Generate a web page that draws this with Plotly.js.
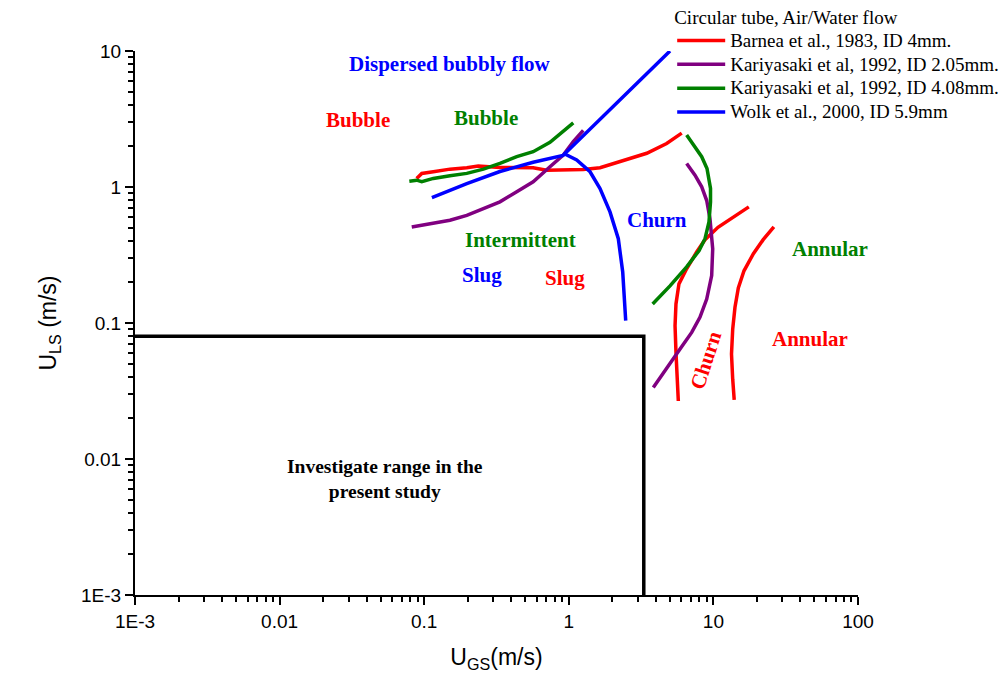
<!DOCTYPE html>
<html>
<head>
<meta charset="utf-8">
<script src="https://cdn.plot.ly/plotly-3.0.1.min.js"></script>
<style>html,body{margin:0;padding:0;background:#fff;}#chart{width:1008px;height:684px;}</style>
</head>
<body>
<div id="chart"></div>
<script>
// ---- data ----
// Barnea et al., 1983, ID 4mm (red)
const barnea1X = [0.0887, 0.0962, 0.1156, 0.1507, 0.197, 0.2366, 0.334, 0.567, 0.703, 1.259, 1.644, 2.26, 3.46, 4.75, 6.04];
const barnea1Y = [1.156, 1.259, 1.295, 1.353, 1.386, 1.424, 1.393, 1.386, 1.33, 1.346, 1.386, 1.535, 1.77, 2.09, 2.49];
const barnea2X = [17.58, 13.66, 10.76, 8.75, 7.66, 6.53, 5.78, 5.51, 5.43, 5.51, 5.63, 5.72];
const barnea2Y = [0.714, 0.596, 0.505, 0.410, 0.3325, 0.2503, 0.194, 0.138, 0.0955, 0.0608, 0.0386, 0.0267];
const barnea3X = [26.2, 22.1, 18.9, 16.28, 14.87, 14.10, 13.60, 13.34, 13.60, 13.93];
const barnea3Y = [0.5085, 0.410, 0.323, 0.242, 0.1813, 0.1306, 0.0903, 0.0591, 0.0386, 0.0272];
// Kariyasaki et al, 1992, ID 2.05mm (purple)
const kari205aX = [0.0820, 0.1156, 0.1507, 0.197, 0.2566, 0.334, 0.4365, 0.567, 0.741, 0.916, 1.074, 1.259];
const kari205aY = [0.5085, 0.538, 0.569, 0.619, 0.694, 0.778, 0.922, 1.093, 1.41, 1.717, 2.157, 2.61];
const kari205bX = [6.53, 7.46, 8.30, 8.99, 9.47, 9.89, 9.73, 8.99, 8.07, 7.08, 5.88, 4.75, 3.84];
const kari205bY = [1.49, 1.222, 1.003, 0.795, 0.585, 0.3516, 0.2234, 0.150, 0.110, 0.0853, 0.0643, 0.0458, 0.0335];
// Kariyasaki et al, 1992, ID 4.08mm (green)
const kari408aX = [0.0789, 0.0887, 0.0962, 0.1156, 0.1507, 0.197, 0.2566, 0.334, 0.4365, 0.567, 0.741, 0.916, 1.074];
const kari408aY = [1.104, 1.122, 1.093, 1.156, 1.21, 1.259, 1.353, 1.49, 1.671, 1.819, 2.13, 2.58, 2.96];
const kari408bX = [6.53, 7.46, 8.30, 9.03, 9.55, 9.55, 9.32, 8.75, 7.95, 6.53, 5.01, 3.80];
const kari408bY = [2.41, 1.98, 1.671, 1.369, 0.975, 0.778, 0.554, 0.417, 0.340, 0.259, 0.1875, 0.138];
// Wolk et al., 2000, ID 5.9mm (blue)
const wolkaX = [0.113, 0.197, 0.334, 0.567, 0.912, 2.12, 5.01];
const wolkaY = [0.836, 1.06, 1.30, 1.52, 1.708, 4.13, 10.0];
const wolkbX = [0.916, 1.134, 1.402, 1.644, 1.927, 2.20, 2.36, 2.475];
const wolkbY = [1.77, 1.58, 1.295, 0.975, 0.656, 0.417, 0.237, 0.104];
// Investigated range (black box)
const boxX = [0.001, 3.3, 3.3];
const boxY = [0.08, 0.08, 0.001];

const seriesNames = ["Barnea et al., 1983, ID 4mm.", "Kariyasaki et al, 1992, ID 2.05mm.",
                     "Kariyasaki et al, 1992, ID 4.08mm.", "Wolk et al., 2000, ID 5.9mm"];
const seriesColors = ["#FF0000", "#800080", "#008000", "#0000FF"];

const xTickVals = [0.001, 0.01, 0.1, 1, 10, 100];
const xTickText = ["1E-3", "0.01", "0.1", "1", "10", "100"];
const yTickVals = [0.001, 0.01, 0.1, 1, 10];
const yTickText = ["1E-3", "0.01", "0.1", "1", "10"];

// region labels
const labelText  = ["Dispersed bubbly flow", "Bubble", "Bubble", "Intermittent", "Slug", "Slug", "Churn", "Annular", "Annular", "Churn"];
const labelX     = [0.1507, 0.0348, 0.267, 0.46, 0.251, 0.941, 4.07, 64.0, 46.6, 8.89];
const labelY     = [8.02, 3.09, 3.20, 0.41, 0.226, 0.215, 0.575, 0.3516, 0.0762, 0.0533];
const labelColor = ["#0000FF", "#FF0000", "#008000", "#008000", "#0000FF", "#FF0000", "#0000FF", "#008000", "#FF0000", "#FF0000"];
const labelAngle = [0, 0, 0, 0, 0, 0, 0, 0, 0, -72];

// ---- build ----
const LW = 3.5;
function tr(x, y, idx, show) {
  return {x: x, y: y, type: 'scatter', mode: 'lines',
          name: '<span style="font-size:19px">' + seriesNames[idx] + '</span>',
          legendgroup: 'g' + idx, showlegend: show,
          line: {color: seriesColors[idx], width: LW}};
}
const data = [
  tr(barnea1X, barnea1Y, 0, true), tr(barnea2X, barnea2Y, 0, false), tr(barnea3X, barnea3Y, 0, false),
  tr(kari205aX, kari205aY, 1, true), tr(kari205bX, kari205bY, 1, false),
  tr(kari408aX, kari408aY, 2, true), tr(kari408bX, kari408bY, 2, false),
  tr(wolkaX, wolkaY, 3, true), tr(wolkbX, wolkbY, 3, false),
  {x: boxX, y: boxY, type: 'scatter', mode: 'lines', showlegend: false, hoverinfo: 'skip',
   line: {color: '#000000', width: 3.5}, cliponaxis: false}
];

function minorVals(lo, hi) {
  const v = [];
  for (let e = lo; e < hi; e++) for (let m = 2; m <= 9; m++) v.push(m * Math.pow(10, e));
  return v;
}

const annotations = labelText.map((t, i) => ({
  text: '<b>' + t + '</b>', x: Math.log10(labelX[i]), y: Math.log10(labelY[i]),
  xref: 'x', yref: 'y', showarrow: false, textangle: labelAngle[i],
  font: {family: 'Liberation Serif, Times New Roman, serif', size: 21, color: labelColor[i]}
}));
annotations.push({
  text: '<b>Investigate range in the<br>present study</b>', x: Math.log10(0.0536), y: Math.log10(0.00718),
  xref: 'x', yref: 'y', showarrow: false,
  font: {family: 'Liberation Serif, Times New Roman, serif', size: 19.5, color: '#000000'}
});

const axisFont = {family: 'Liberation Sans, Arial, sans-serif', size: 19, color: '#000'};
const layout = {
  width: 1008, height: 684,
  margin: {l: 135, r: 150, t: 51, b: 89, autoexpand: false},
  paper_bgcolor: '#fff', plot_bgcolor: '#fff',
  showlegend: true,
  legend: {
    x: 0.743, y: 1.0957, xanchor: 'left', yanchor: 'top',
    bgcolor: 'rgba(0,0,0,0)', borderwidth: 0,
    font: {family: 'Liberation Serif, Times New Roman, serif', size: 16, color: '#000'},
    title: {text: 'Circular tube, Air/Water flow', font: {family: 'Liberation Serif, Times New Roman, serif', size: 19, color: '#000'}},
    tracegroupgap: 0, itemwidth: 48
  },
  xaxis: {
    type: 'log', range: [-3, 2], showgrid: false, zeroline: false,
    showline: true, linecolor: '#000', linewidth: 2, mirror: false,
    ticks: 'outside', ticklen: 8, tickwidth: 2, tickcolor: '#000',
    tickmode: 'array', tickvals: xTickVals, ticktext: xTickText, tickfont: axisFont,
    minor: {ticks: 'outside', ticklen: 5, tickwidth: 2, tickcolor: '#000', tickmode: 'array', tickvals: minorVals(-3, 2), showgrid: false},
    title: {text: 'U<sub>GS</sub>(m/s)', font: {family: 'Liberation Sans, Arial, sans-serif', size: 23, color: '#000'}, standoff: 18}
  },
  yaxis: {
    type: 'log', range: [-3, 1], showgrid: false, zeroline: false,
    showline: true, linecolor: '#000', linewidth: 2, mirror: false,
    ticks: 'outside', ticklen: 8, tickwidth: 2, tickcolor: '#000',
    tickmode: 'array', tickvals: yTickVals, ticktext: yTickText, tickfont: axisFont,
    minor: {ticks: 'outside', ticklen: 5, tickwidth: 2, tickcolor: '#000', tickmode: 'array', tickvals: minorVals(-3, 1), showgrid: false},
    title: {text: 'U<sub>LS</sub> (m/s)', font: {family: 'Liberation Sans, Arial, sans-serif', size: 23, color: '#000'}, standoff: 18}
  },
  annotations: annotations
};

Plotly.newPlot('chart', data, layout, {displayModeBar: false, staticPlot: true});
</script>
</body>
</html>
